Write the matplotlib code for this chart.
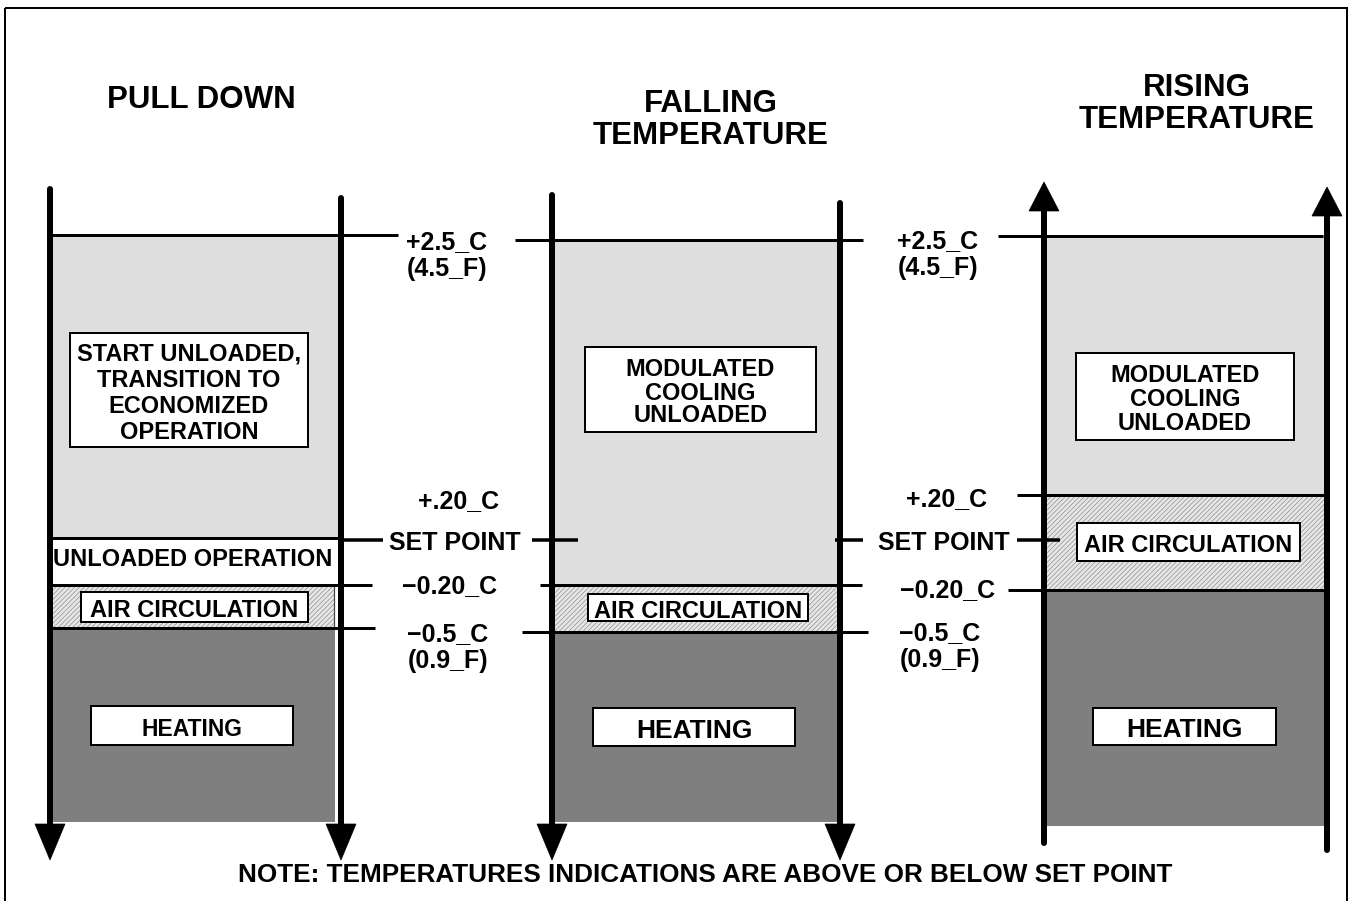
import matplotlib.pyplot as plt
from matplotlib.patches import Rectangle, Polygon

plt.rcParams['font.family'] = ['Liberation Sans', 'DejaVu Sans']
plt.rcParams['hatch.linewidth'] = 0.5

# chart content
titles = ["PULL DOWN", "FALLING\nTEMPERATURE", "RISING\nTEMPERATURE"]
directions = ["down", "down", "up"]

# bands per panel: (top, bottom, kind) in picture rows
pull_down_bands = [(235, 538, "light"), (538, 585, "white"), (585, 628, "hatch"), (628, 822, "dark")]
falling_bands = [(240, 585, "light"), (585, 632, "hatch"), (632, 822, "dark")]
rising_bands = [(236, 495, "light"), (495, 590, "hatch"), (590, 826, "dark")]

pull_down_boxes = ["START UNLOADED,\nTRANSITION TO\nECONOMIZED\nOPERATION", "AIR CIRCULATION", "HEATING"]
falling_boxes = ["MODULATED\nCOOLING\nUNLOADED", "AIR CIRCULATION", "HEATING"]
rising_boxes = ["MODULATED\nCOOLING\nUNLOADED", "AIR CIRCULATION", "HEATING"]

level_labels = ["+2.5_C\n(4.5_F)", "+.20_C", "SET POINT", "\u22120.20_C", "\u22120.5_C\n(0.9_F)"]
note = "NOTE: TEMPERATURES INDICATIONS ARE ABOVE OR BELOW SET POINT"

# layout
W, H = 1349, 901
fig = plt.figure(figsize=(W / 100, H / 100), dpi=100)
ax = fig.add_axes([0, 0, 1, 1])
ax.set_xlim(0, W)
ax.set_ylim(H, 0)
ax.axis('off')

px = 0.72  # px -> pt at 100 dpi
fills = {"light": "#dedede", "dark": "#7f7f7f", "white": "white"}

ax.add_patch(Rectangle((5, 8), 1342, 910, fill=False, lw=2 * px, ec='black'))

panel_x = [(50, 341), (552, 840), (1044, 1327)]
axis_y = [[(189, 860), (198, 860)], [(195, 860), (203, 860)], [(182, 843), (187, 850)]]
all_bands = [pull_down_bands, falling_bands, rising_bands]
hatch_right = [334, 840, 1327]
dark_right = [335, 838, 1327]

for i in range(3):
    x0, x1 = panel_x[i]
    for top, bot, kind in all_bands[i]:
        if kind == "hatch":
            ax.add_patch(Rectangle((x0, top), hatch_right[i] - x0, bot - top, fc='#e6e6e6',
                                   ec='#909090', lw=0, hatch='///////', zorder=1))
            if i == 0:
                ax.plot([hatch_right[i], hatch_right[i]], [top, bot], color='#444444', lw=1.2 * px, zorder=2)
        else:
            xr = dark_right[i] if kind == "dark" else x1
            ax.add_patch(Rectangle((x0, top), xr - x0, bot - top, fc=fills[kind], lw=0, zorder=1))

# horizontal level lines (y, x from, x to)
level_lines = [(235, 50, 398), (538, 50, 341), (585, 50, 372), (628, 50, 375),
               (540, 341, 383), (540, 532, 578), (540, 835, 863), (540, 1017, 1060),
               (240, 515, 863), (585, 540, 862), (632, 522, 868),
               (236, 998, 1323), (495, 1017, 1325), (590, 1008, 1325)]
for y, xa, xb in level_lines:
    lw = 3 * px if xb - xa > 60 else 3.5 * px
    ax.plot([xa, xb], [y, y], color='black', lw=lw, solid_capstyle='butt', zorder=3)

# vertical axes with arrow heads
for i in range(3):
    for j, x in enumerate(panel_x[i]):
        ytop, ybot = axis_y[i][j]
        if directions[i] == "down":
            ax.plot([x, x], [ytop, ybot - 30], color='black', lw=6 * px, solid_capstyle='round', zorder=4)
            ax.add_patch(Polygon([(x - 15, ybot - 36), (x + 15, ybot - 36), (x, ybot)], closed=True,
                                 fc='black', ec='black', lw=0.5, zorder=4))
        else:
            ax.plot([x, x], [ytop + 25, ybot], color='black', lw=6 * px, solid_capstyle='round', zorder=4)
            ax.add_patch(Polygon([(x - 15, ytop + 29), (x + 15, ytop + 29), (x, ytop)], closed=True,
                                 fc='black', ec='black', lw=0.5, zorder=4))

# boxed labels: (x0, y0, x1, y1, line step, fontsize)
box_geo = [[(70, 333, 308, 447, 26, 17), (81, 592, 308, 622, 0, 17), (91, 706, 293, 745, 0, 16.5)],
           [(585, 347, 816, 432, 23, 17), (588, 594, 808, 621, 0, 17), (593, 708, 795, 746, 0, 19)],
           [(1076, 353, 1294, 440, 24, 17), (1077, 523, 1300, 561, 0, 17), (1093, 708, 1276, 745, 0, 19)]]
all_boxes = [pull_down_boxes, falling_boxes, rising_boxes]


def put_lines(text, cx, cy, step, size):
    lines = text.split("\n")
    n = len(lines)
    for k, line in enumerate(lines):
        y = cy + (k - (n - 1) / 2) * step
        ax.text(cx, y, line, ha='center', va='center_baseline', fontsize=size,
                fontweight='bold', zorder=6)


for i in range(3):
    for text, (bx0, by0, bx1, by1, step, size) in zip(all_boxes[i], box_geo[i]):
        ax.add_patch(Rectangle((bx0, by0), bx1 - bx0, by1 - by0, fc='white', ec='black',
                               lw=2 * px, zorder=5))
        put_lines(text, (bx0 + bx1) / 2, (by0 + by1) / 2 + 1, step, size)

put_lines("UNLOADED OPERATION", 193, 557, 0, 17)

# level labels in the two gaps
gap_pos = [[(447, 253), (459, 499), (455, 540), (450, 584), (448, 645)],
           [(938, 252), (947, 497), (944, 540), (948, 588), (940, 644)]]
for col in gap_pos:
    for text, (cx, cy) in zip(level_labels, col):
        put_lines(text, cx, cy, 27, 18)

# titles
title_pos = [(201, 97), (711, 117), (1197, 100)]
for t, (cx, cy) in zip(titles, title_pos):
    put_lines(t, cx, cy, 32, 22.5)

put_lines(note, 705, 872, 0, 18.8)

fig.savefig("out.png", dpi=100)
